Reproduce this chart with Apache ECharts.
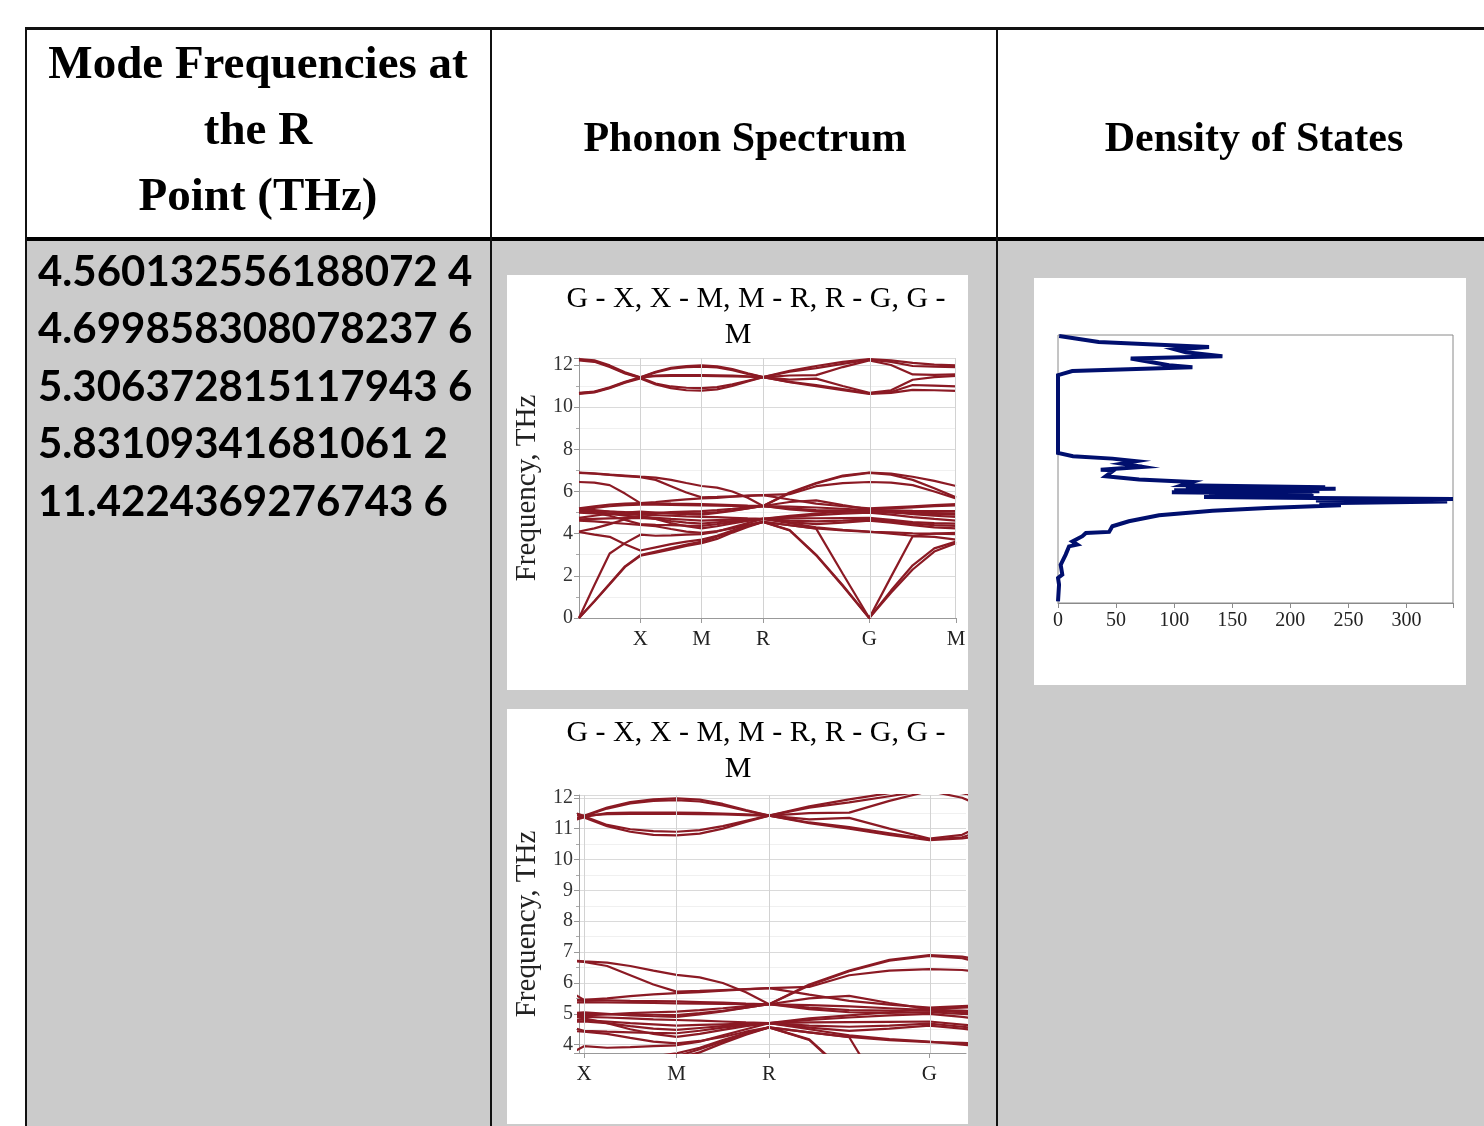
<!DOCTYPE html>
<html>
<head>
    <meta charset="utf-8">
    <title>Phonon table</title>
    <script src="https://cdn.jsdelivr.net/npm/echarts@6/dist/echarts.min.js"></script>
    <style>
        html, body { margin: 0; padding: 0; background: #fff; }
        #main { width: 1484px; height: 1126px; }
    </style>
</head>
<body>
<div id="main"></div>
<script type="text/javascript">
// table texts
var headerCol1 = ['Mode Frequencies at', 'the R', 'Point (THz)'];
var headerCol2 = 'Phonon Spectrum';
var headerCol3 = 'Density of States';
var modeFreqLines = [
    '4.560132556188072 4',
    '4.699858308078237 6',
    '5.306372815117943 6',
    '5.83109341681061 2',
    '11.4224369276743 6'
];
var pathTitle1 = 'G - X, X - M, M - R, R - G, G -';
var pathTitle2 = 'M';

// k-path distances (G..X..M..R..G..M) and high symmetry ticks
var kDist = [0, 0.125, 0.25, 0.375, 0.5, 0.625, 0.75, 0.875, 1.0, 1.125, 1.25, 1.375, 1.5,
             1.717, 1.933, 2.15, 2.366, 2.543, 2.72, 2.896, 3.073];
var kTickPos = [0.5, 1.0, 1.5, 2.366, 3.073];
var kTickNames = ['X', 'M', 'R', 'G', 'M'];

// upper optical bands (THz)
var bandU1 = [12.28,12.22,11.98,11.65,11.42, 11.68,11.86,11.95,11.98, 11.94,11.80,11.60,11.42, 11.72,11.95,12.15,12.28, 12.22,12.10,12.02,11.98];
var bandU2 = [12.25,12.18,11.94,11.62,11.40, 11.65,11.82,11.90,11.92, 11.88,11.75,11.58,11.42, 11.68,11.85,12.05,12.25, 12.15,11.95,11.92,11.90];
var bandU3 = [12.22,12.15,11.90,11.60,11.38, 11.50,11.52,11.52,11.52, 11.51,11.49,11.46,11.42, 11.50,11.52,11.90,12.22, 12.00,11.55,11.53,11.55];
var bandU4 = [10.68,10.74,10.94,11.20,11.42, 11.47,11.48,11.48,11.48, 11.47,11.46,11.44,11.42, 11.30,11.35,11.00,10.68, 10.80,11.30,11.42,11.48];
var bandU5 = [10.65,10.72,10.92,11.18,11.40, 11.12,10.98,10.92,10.90, 10.95,11.08,11.25,11.42, 11.20,11.05,10.85,10.65, 10.72,11.05,11.02,10.98];
var bandU6 = [10.63,10.70,10.90,11.16,11.36, 11.08,10.90,10.80,10.78, 10.84,11.00,11.22,11.42, 11.18,11.00,10.80,10.63, 10.68,10.82,10.80,10.77];

// lower bands (THz)
var bandL1  = [6.90,6.86,6.80,6.75,6.70, 6.66,6.55,6.40,6.26, 6.18,6.00,5.70,5.31, 5.95,6.40,6.75,6.90, 6.85,6.70,6.50,6.26];
var bandL2  = [6.88,6.84,6.79,6.73,6.68, 6.55,6.25,5.95,5.72, 5.74,5.77,5.80,5.83, 5.87,6.25,6.40,6.45, 6.42,6.30,6.00,5.67];
var bandL3  = [6.45,6.42,6.30,5.90,5.45, 5.50,5.57,5.63,5.67, 5.70,5.75,5.79,5.83, 5.62,5.42,5.30,5.20, 5.25,5.30,5.35,5.40];
var bandL4  = [5.20,5.30,5.38,5.42,5.45, 5.44,5.42,5.41,5.40, 5.38,5.36,5.33,5.31, 5.92,6.38,6.72,6.88, 6.80,6.55,6.15,5.72];
var bandL5  = [5.18,5.22,5.30,5.35,5.38, 5.37,5.36,5.35,5.34, 5.33,5.32,5.31,5.31, 5.50,5.58,5.35,5.15, 5.20,5.25,5.30,5.34];
var bandL6  = [5.15,5.12,5.05,5.00,4.95, 4.98,5.02,5.05,5.07, 5.12,5.18,5.25,5.31, 5.28,5.24,5.18,5.12, 5.10,5.08,5.07,5.07];
var bandL7  = [5.12,5.05,4.95,4.85,4.80, 4.75,4.70,4.66,4.62, 4.64,4.66,4.68,4.70, 4.85,4.95,5.05,5.18, 5.05,4.92,4.85,4.80];
var bandL8  = [5.10,5.08,5.05,5.02,5.00, 4.99,4.98,4.97,4.96, 5.02,5.10,5.20,5.31, 5.20,5.12,5.10,5.10, 5.05,5.00,4.98,4.96];
var bandL9  = [5.05,4.98,4.85,4.65,4.45, 4.42,4.40,4.38,4.37, 4.45,4.55,4.63,4.70, 4.80,4.88,4.95,5.00, 4.90,4.78,4.70,4.62];
var bandL10 = [5.00,4.96,4.93,4.91,4.90, 4.88,4.85,4.82,4.80, 4.78,4.75,4.72,4.70, 4.72,4.73,4.74,4.75, 4.65,4.55,4.50,4.48];
var bandL11 = [4.75,4.85,4.95,5.00,5.05, 5.00,4.95,4.92,4.90, 4.98,5.08,5.20,5.31, 5.15,5.05,5.03,5.05, 5.00,4.95,4.92,4.90];
var bandL12 = [4.68,4.70,4.72,4.74,4.75, 4.70,4.60,4.52,4.48, 4.54,4.60,4.65,4.70, 4.62,4.58,4.62,4.68, 4.58,4.48,4.40,4.37];
var bandL13 = [4.62,4.58,4.52,4.47,4.42, 4.35,4.22,4.10,4.04, 4.12,4.25,4.42,4.56, 4.40,4.25,4.15,4.08, 4.06,4.02,4.00,3.98];
var bandL14 = [4.10,4.25,4.45,4.68,4.85, 4.70,4.50,4.35,4.25, 4.35,4.48,4.60,4.70, 4.55,4.45,4.52,4.62, 4.52,4.40,4.30,4.25];
var bandL15 = [4.08,3.95,3.85,3.50,3.20, 3.35,3.50,3.62,3.72, 3.90,4.15,4.38,4.56, 4.17,3.00,1.55,0.00, 1.95,3.88,3.85,3.72];
var bandL16 = [0.00,1.55,3.06,3.55,3.95, 3.90,3.92,3.95,3.98, 4.10,4.30,4.50,4.70, 4.50,4.30,4.18,4.10, 4.00,3.90,4.00,4.04];
var bandL17 = [0.00,0.78,1.60,2.42,2.95, 3.10,3.25,3.42,3.55, 3.75,4.05,4.32,4.56, 4.40,4.24,2.10,0.00, 1.30,2.50,3.30,3.62];
var bandL18 = [0.00,0.80,1.62,2.45,2.98, 3.15,3.32,3.48,3.62, 3.85,4.10,4.35,4.56, 4.15,2.97,1.52,0.00, 1.20,2.30,3.15,3.55];

var allBands = [bandU1, bandU2, bandU3, bandU4, bandU5, bandU6,
    bandL1, bandL2, bandL3, bandL4, bandL5, bandL6, bandL7, bandL8, bandL9,
    bandL10, bandL11, bandL12, bandL13, bandL14, bandL15, bandL16, bandL17, bandL18];

// density of states, read from top (high freq) to bottom
var dosFreq  = [12.35, 12.08, 11.84, 11.73, 11.60, 11.42, 11.31, 11.00, 10.91, 10.73, 10.54,
                6.94, 6.79, 6.68, 6.56, 6.45, 6.30, 6.17, 6.14, 5.86, 5.71, 5.60, 5.45, 5.35, 5.31,
                5.29, 5.22, 5.17, 5.12, 5.05, 5.00, 4.95, 4.91, 4.86, 4.81, 4.74, 4.70, 4.62, 4.52,
                4.40, 4.27, 4.06, 3.78, 3.55, 3.29, 3.24, 3.09, 2.85, 2.70, 2.62, 2.24, 1.77, 1.31,
                1.16, 0.85, 0.08];
var dosCount = [1, 35, 130, 101, 110, 141.5, 62.6, 95.6, 115.7, 12.3, 0,
                0, 12.9, 46.8, 67.5, 55, 72.6, 36.8, 48, 41, 69.8, 115.7, 107, 230, 110,
                239, 100, 225, 98, 219, 130, 220, 125.7, 220, 340, 222, 335, 225, 243.5,
                180, 133, 87, 61, 46.8, 44, 24, 21, 12.4, 16.6, 9.5, 6.6, 2.3, 3.7,
                0, 0.9, 0];

var bandColor = '#8b1a24';
var serif = '"Liberation Serif", "Times New Roman", serif';

var myChart = echarts.init(document.getElementById('main'));

function bandData(band) {
    var res = [];
    for (var i = 0; i < kDist.length; i++) {
        res.push([kDist[i], band[i]]);
    }
    return res;
}
function tickName(v) {
    for (var i = 0; i < kTickPos.length; i++) {
        if (Math.abs(kTickPos[i] - v) < 0.01) return kTickNames[i];
    }
    return '';
}

function bandYAxis(grid, min, max, interval, splitNumber, showLabel) {
    var ax = {
        type: 'value', gridIndex: grid, min: min, max: max,
        name: 'Frequency, THz', nameLocation: 'middle', nameGap: 37,
        nameTextStyle: { fontFamily: serif, fontSize: 29, color: '#222' },
        axisLine: { show: true, lineStyle: { color: '#999' } },
        axisTick: { show: true, length: 5, lineStyle: { color: '#999' } },
        minorTick: { show: true, splitNumber: 2, length: 3, lineStyle: { color: '#aaa' } },
        axisLabel: {
            fontFamily: serif, fontSize: 20, color: '#333', margin: 6,
            formatter: showLabel
        },
        splitLine: { show: true, lineStyle: { color: '#dadada' } },
        minorSplitLine: { show: true, lineStyle: { color: '#f0f0f0' } }
    };
    if (interval) ax.interval = interval;
    if (splitNumber) ax.splitNumber = splitNumber;
    return ax;
}

function bandXAxis(grid, min, max, ticks) {
    return {
        type: 'value', gridIndex: grid, min: min, max: max,
        axisLine: { show: true, lineStyle: { color: '#999' } },
        axisTick: { show: true, length: 5, customValues: ticks, lineStyle: { color: '#999' } },
        axisLabel: {
            customValues: ticks, fontFamily: serif, fontSize: 21, color: '#222', margin: 11,
            formatter: function (v) { return tickName(v); }
        },
        splitLine: { show: false }
    };
}

var series = [];
// vertical gridlines at high symmetry points
[0, 1].forEach(function (g) {
    series.push({
        type: 'line', xAxisIndex: g, yAxisIndex: g, data: [], silent: true, z: 1,
        markLine: {
            silent: true, symbol: 'none', animation: false,
            label: { show: false },
            lineStyle: { color: '#d2d2d2', width: 1, type: 'solid' },
            data: kTickPos.map(function (v) { return { xAxis: v }; })
        }
    });
});
[0, 1].forEach(function (g) {
    allBands.forEach(function (band) {
        series.push({
            type: 'line', xAxisIndex: g, yAxisIndex: g,
            data: bandData(band), showSymbol: false, symbol: 'none',
            silent: true, clip: true, z: 3,
            lineStyle: { color: bandColor, width: 2.2 }
        });
    });
});
var dosData = [];
for (var i = 0; i < dosFreq.length; i++) dosData.push([dosCount[i], dosFreq[i]]);
series.push({
    type: 'line', xAxisIndex: 2, yAxisIndex: 2, data: dosData,
    showSymbol: false, symbol: 'none', silent: true, clip: false,
    lineStyle: { color: '#000f6e', width: 4, join: 'miter' }
});

function txt(x, y, text, font, align) {
    return {
        type: 'text', x: x, y: y, z: 10, silent: true,
        style: { text: text, font: font, fill: '#000', align: align || 'center', verticalAlign: 'middle' }
    };
}

var graphics = [
    // gray body and white chart boxes
    { type: 'rect', z: -10, shape: { x: 27, y: 241, width: 1457, height: 885 }, style: { fill: '#cbcbcb' } },
    { type: 'rect', z: -9, shape: { x: 507, y: 275, width: 461, height: 415 }, style: { fill: '#fff' } },
    { type: 'rect', z: -9, shape: { x: 507, y: 709, width: 461, height: 415 }, style: { fill: '#fff' } },
    { type: 'rect', z: -9, shape: { x: 1034, y: 278, width: 432, height: 407 }, style: { fill: '#fff' } },
    // table rules
    { type: 'rect', z: 5, shape: { x: 25, y: 27, width: 1459, height: 3 }, style: { fill: '#111' } },
    { type: 'rect', z: 5, shape: { x: 25, y: 237, width: 1459, height: 4 }, style: { fill: '#000' } },
    { type: 'rect', z: 5, shape: { x: 25, y: 27, width: 2, height: 1099 }, style: { fill: '#111' } },
    { type: 'rect', z: 5, shape: { x: 490, y: 27, width: 2, height: 1099 }, style: { fill: '#111' } },
    { type: 'rect', z: 5, shape: { x: 996, y: 27, width: 2, height: 1099 }, style: { fill: '#111' } }
];
graphics.push(txt(258, 66, headerCol1[0], 'bold 47px ' + serif));
graphics.push(txt(258, 132, headerCol1[1], 'bold 47px ' + serif));
graphics.push(txt(258, 198, headerCol1[2], 'bold 47px ' + serif));
graphics.push(txt(745, 140, headerCol2, 'bold 42px ' + serif));
graphics.push(txt(1254, 140, headerCol3, 'bold 42px ' + serif));
modeFreqLines.forEach(function (s, i) {
    graphics.push(txt(38, 272 + i * 57.5, s, 'bold 42px Lato', 'left'));
});
[299, 733].forEach(function (y) {
    graphics.push(txt(756, y, pathTitle1, '30px ' + serif));
    graphics.push(txt(738, y + 36, pathTitle2, '30px ' + serif));
});

var option = {
    animation: false,
    backgroundColor: '#fff',
    graphic: { elements: graphics },
    grid: [
        { left: 579, top: 358, width: 377, height: 260 },
        { left: 579, top: 795, width: 387, height: 258 },
        { left: 1058, top: 335, width: 395, height: 268, show: true, borderColor: '#8a8a8a', borderWidth: 1, backgroundColor: 'transparent' }
    ],
    xAxis: [
        bandXAxis(0, 0, 3.073, kTickPos),
        bandXAxis(1, 0.473, 2.564, kTickPos.slice(0, 4)),
        {
            type: 'value', gridIndex: 2, min: 0, max: 340, interval: 50,
            axisLine: { show: true, lineStyle: { color: '#8a8a8a' } },
            axisTick: { show: true, length: 5, lineStyle: { color: '#8a8a8a' } },
            axisLabel: {
                fontFamily: serif, fontSize: 20, color: '#222', margin: 8,
                formatter: function (v) { return v % 50 === 0 ? String(v) : ''; }
            },
            splitLine: { show: false }
        }
    ],
    yAxis: [
        bandYAxis(0, 0, 12.33, 2, null, function (v) { return v % 2 === 0 ? String(v) : ''; }),
        bandYAxis(1, 3.73, 12.09, null, 8, function (v) { return Number.isInteger(v) ? String(v) : ''; }),
        {
            type: 'value', gridIndex: 2, min: 0, max: 12.4,
            axisLine: { show: false }, axisTick: { show: false },
            axisLabel: { show: false }, splitLine: { show: false }
        }
    ],
    series: series
};

myChart.setOption(option);
</script>
</body>
</html>
